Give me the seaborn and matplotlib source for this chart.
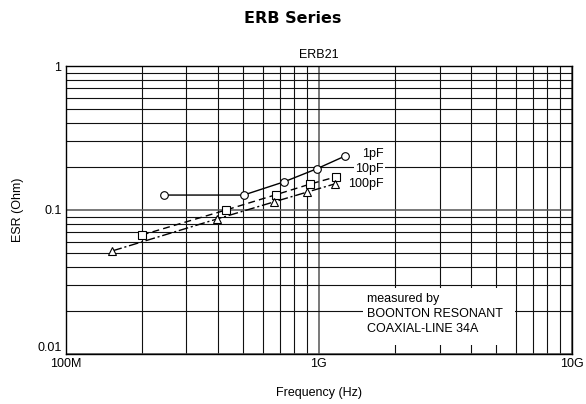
import matplotlib
matplotlib.use("Agg")
import matplotlib.pyplot as plt
import seaborn as sns
import pandas as pd
import numpy as np
from matplotlib.ticker import LogLocator, NullFormatter, FixedLocator
from matplotlib.patches import Rectangle

# ---- data ----
freq_1pF = [2.45e8, 5.05e8, 7.3e8, 9.8e8, 1.27e9]
esr_1pF = [0.127, 0.127, 0.157, 0.193, 0.237]
freq_10pF = [2.0e8, 4.3e8, 6.8e8, 9.2e8, 1.17e9]
esr_10pF = [0.067, 0.100, 0.128, 0.151, 0.170]
freq_100pF = [1.53e8, 3.96e8, 6.67e8, 8.97e8, 1.16e9]
esr_100pF = [0.052, 0.0866, 0.114, 0.133, 0.152]
series_names = ["1pF", "10pF", "100pF"]
x_ticks = [1e8, 1e9, 1e10]
x_ticklabels = ["100M", "1G", "10G"]
y_ticks = [0.01, 0.1, 1]
y_ticklabels = ["0.01", "0.1", "1"]

sns.set_style("white")
plt.rcParams["font.family"] = ["Liberation Sans", "DejaVu Sans"]
plt.rcParams["text.color"] = "black"
plt.rcParams["axes.labelcolor"] = "black"
plt.rcParams["xtick.color"] = "black"
plt.rcParams["ytick.color"] = "black"

fig = plt.figure(figsize=(5.86, 4.04), dpi=100)
ax = fig.add_axes([0.112, 0.1238, 0.864, 0.7128])

styles = {
    "1pF": dict(marker="o", linestyle="-", ms=5.5),
    "10pF": dict(marker="s", linestyle=(0, (5, 3)), ms=6),
    "100pF": dict(marker="^", linestyle=(0, (7, 2, 1.5, 2)), ms=5.5),
}
data = {
    "1pF": (freq_1pF, esr_1pF),
    "10pF": (freq_10pF, esr_10pF),
    "100pF": (freq_100pF, esr_100pF),
}
for name in series_names:
    f, e = data[name]
    df = pd.DataFrame({"f": f, "esr": e})
    st = styles[name]
    sns.lineplot(data=df, x="f", y="esr", ax=ax, color="black", lw=1.0,
                 marker=st["marker"], markersize=st["ms"],
                 markerfacecolor="white", markeredgecolor="black",
                 markeredgewidth=0.8, linestyle=st["linestyle"], zorder=4)

ax.set_xscale("log")
ax.set_yscale("log")
ax.set_xlim(1e8, 1e10)
ax.set_ylim(0.01, 1)

ax.xaxis.set_major_locator(FixedLocator(x_ticks))
ax.set_xticklabels(x_ticklabels)
ax.yaxis.set_major_locator(FixedLocator(y_ticks))
ax.set_yticklabels(y_ticklabels)
ax.xaxis.set_minor_locator(LogLocator(base=10, subs=np.arange(2, 10)))
ax.yaxis.set_minor_locator(LogLocator(base=10, subs=np.arange(2, 10)))
ax.xaxis.set_minor_formatter(NullFormatter())
ax.yaxis.set_minor_formatter(NullFormatter())
ax.tick_params(which="both", length=0, labelsize=9, colors="black", pad=3)
for lab in ax.get_yticklabels():
    if lab.get_text() == "0.01":
        lab.set_va("bottom")

ax.grid(True, which="major", color="#555555", lw=1.1, zorder=1)
ax.grid(True, which="minor", color="#111111", lw=0.8, zorder=1)
for s in ax.spines.values():
    s.set_color("black")
    s.set_linewidth(1.0)

ax.set_xlabel("Frequency (Hz)", fontsize=9, labelpad=12)
ax.set_ylabel("ESR (Ohm)", fontsize=9, labelpad=9.5)
ax.set_title("ERB21", fontsize=9, pad=6)
fig.suptitle("ERB Series", fontsize=11.5, fontweight="bold", y=0.955, va="center",
             x=0.5, family=["DejaVu Sans"], color="black")

lbl_pos = {"1pF": (0.629, 0.694), "10pF": (0.629, 0.642), "100pF": (0.629, 0.590)}
for name in series_names:
    x, y = lbl_pos[name]
    ax.text(x, y, name, transform=ax.transAxes, fontsize=9, ha="right", va="center",
            bbox=dict(facecolor="white", edgecolor="none", pad=1.0), zorder=5)

ax.add_patch(Rectangle((0.587, 0.031), 0.300, 0.198, transform=ax.transAxes,
                       facecolor="white", edgecolor="none", zorder=3))
ax.text(0.596, 0.139, "measured by\nBOONTON RESONANT\nCOAXIAL-LINE 34A",
        transform=ax.transAxes, fontsize=9, ha="left", va="center", linespacing=1.3,
        zorder=5)

if ax.get_legend():
    ax.get_legend().remove()

fig.savefig("out.png", dpi=100)
